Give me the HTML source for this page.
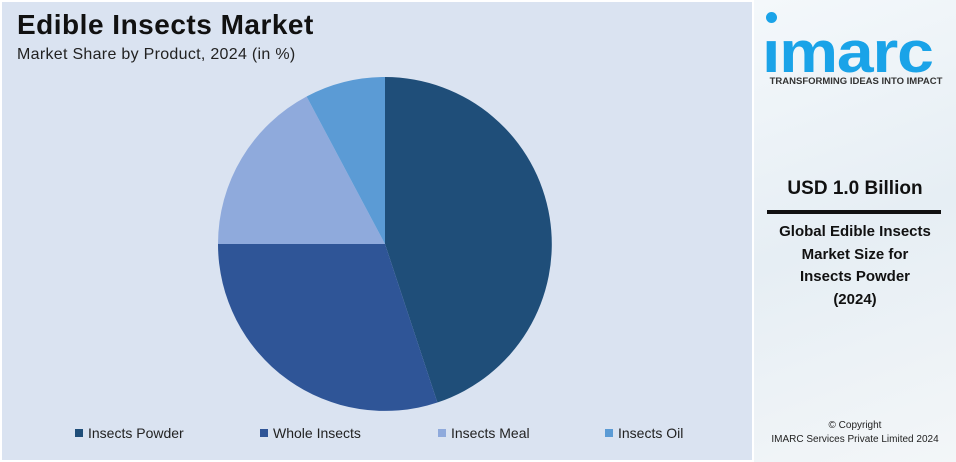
<!DOCTYPE html>
<html><head><meta charset="utf-8"><style>
body{margin:0;width:956px;height:462px;background:#fff;font-family:"Liberation Sans",sans-serif;position:relative;overflow:hidden}
.left{position:absolute;left:2px;top:2px;width:750px;height:458px;background:#dae3f1}
.t1{position:absolute;left:17px;top:9px;font-size:28px;font-weight:bold;color:#111;letter-spacing:0.5px}
.t2{position:absolute;left:17px;top:46px;font-size:16px;color:#222;letter-spacing:0.3px}
.leg{position:absolute;top:425px;font-size:14px;color:#222}
.leg i{display:inline-block;width:8px;height:8px;margin-right:5px;vertical-align:1px}
.right{position:absolute;left:754px;top:0;width:202px;height:462px;background:linear-gradient(160deg,#f4f8fb,#e6eef4 50%,#f3f6f8);overflow:hidden}
.c{position:absolute;left:0;width:202px;text-align:center;color:#111}
</style></head><body>
<div class="left"></div>
<div class="t1">Edible Insects Market</div>
<div class="t2">Market Share by Product, 2024 (in %)</div>
<svg style="position:absolute;left:0;top:0" width="756" height="462">
<path d="M385,244 L385,77 A167,167 0 0 1 437.4,402.5 Z" fill="#1f4e79"/>
<path d="M385,244 L437.4,402.5 A167,167 0 0 1 218,244 Z" fill="#2f5597"/>
<path d="M385,244 L218,244 A167,167 0 0 1 306.6,96.5 Z" fill="#8faadc"/>
<path d="M385,244 L306.6,96.5 A167,167 0 0 1 385,77 Z" fill="#5b9bd5"/>
</svg>
<div class="leg" style="left:75px"><i style="background:#1f4e79"></i>Insects Powder</div>
<div class="leg" style="left:260px"><i style="background:#2f5597"></i>Whole Insects</div>
<div class="leg" style="left:438px"><i style="background:#8faadc"></i>Insects Meal</div>
<div class="leg" style="left:605px"><i style="background:#5b9bd5"></i>Insects Oil</div>
<div class="right">
<div style="position:absolute;left:12px;top:12px;width:11px;height:11px;border-radius:50%;background:#1aa3e8"></div>
<div style="position:absolute;left:8px;top:20px;font-size:58px;font-weight:bold;color:#1aa3e8;line-height:66px;transform:scaleX(1.14);transform-origin:left top;letter-spacing:-1px">ımarc</div>
<div class="c" style="top:76px;font-size:9.5px;font-weight:bold;color:#333;left:4px;width:196px">TRANSFORMING IDEAS INTO IMPACT</div>
<div class="c" style="top:178px;font-size:19px;font-weight:bold">USD 1.0 Billion</div>
<div style="position:absolute;left:13px;top:210px;width:174px;height:4px;background:#111"></div>
<div class="c" style="top:221px;font-size:15px;font-weight:bold;line-height:22.5px">Global Edible Insects<br>Market Size for<br>Insects Powder<br>(2024)</div>
<div class="c" style="top:419px;font-size:10px;line-height:14px;color:#222">© Copyright<br>IMARC Services Private Limited 2024</div>
</div>
</body></html>
